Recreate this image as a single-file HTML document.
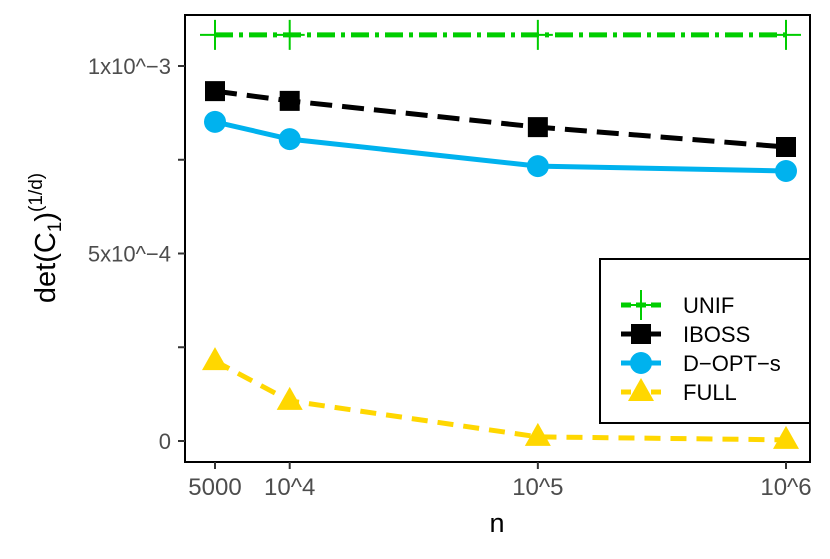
<!DOCTYPE html>
<html><head><meta charset="utf-8"><style>
body{margin:0;background:#fff}
svg text{font-family:"Liberation Sans",sans-serif}
</style></head><body>
<svg id="chart" width="830" height="554" viewBox="0 0 830 554">
<g id="plot"></g>
</svg>
<script>
const categories=[5000,10000,100000,1000000];
const xTickLabels=["5000","10^4","10^5","10^6"];
const yTicks=[0,0.00025,0.0005,0.00075,0.001];
const yTickLabels=["0","","5x10^\u22124","","1x10^\u22123"];
const unif=[0.001083,0.001083,0.001083,0.001083];
const iboss=[0.000933,0.000907,0.000837,0.000784];
const dopt=[0.000851,0.000805,0.000733,0.00072];
const full=[0.000213,0.000107,0.000011,0.000003];
const legendLabels=["UNIF","IBOSS","D\u2212OPT\u2212s","FULL"];

const NS="http://www.w3.org/2000/svg";
const g=document.getElementById('plot');
function x(v){return 215+(Math.log10(v)-Math.log10(5000))/(6-Math.log10(5000))*(786-215);}
function y(v){return 441-v/0.001*375;}
function mk(t,a,p){const e=document.createElementNS(NS,t);for(const k in a)e.setAttribute(k,a[k]);(p||g).appendChild(e);return e;}

const frame=mk('rect',{x:185,y:15,width:625,height:447,fill:'none',stroke:'#000','stroke-width':2});



yTicks.forEach((v,i)=>{
  const t=mk('line',{x1:178,x2:185,y1:y(v),y2:y(v),stroke:'#333','stroke-width':2});
  
  
  if(yTickLabels[i]){
    const l=mk('text',{x:171,y:y(v)+8,'text-anchor':'end','font-size':22,fill:'#4d4d4d'});
    l.textContent=yTickLabels[i];
    
    
  }
});
categories.forEach((c,i)=>{
  const t=mk('line',{x1:x(c),x2:x(c),y1:462,y2:469,stroke:'#333','stroke-width':2});
  
  
  const l=mk('text',{x:x(c),y:495,'text-anchor':'middle','font-size':24,fill:'#4d4d4d'});
  l.textContent=xTickLabels[i];
  
  
});
const xt=mk('text',{x:497,y:532,'text-anchor':'middle','font-size':27});
xt.textContent='n';


const yt=mk('text',{transform:'translate(55,238) rotate(-90)','text-anchor':'middle','font-size':29});
yt.innerHTML='det(C<tspan font-size="19" dy="6">1</tspan><tspan dy="-6">)</tspan><tspan font-size="19" dy="-13">(1/d)</tspan>';



function marker(type,cx,cy,col,p){
  let e;
  if(type==='plus'){e=mk('path',{d:`M${cx-15},${cy}H${cx+15}M${cx},${cy-15}V${cy+15}`,stroke:col,'stroke-width':2},p);}
  else if(type==='square'){e=mk('rect',{x:cx-10,y:cy-10,width:20,height:20,fill:col},p);}
  else if(type==='circle'){e=mk('circle',{cx:cx,cy:cy,r:11,fill:col},p);}
  else {e=mk('path',{d:`M${cx},${cy-14}L${cx+13},${cy+9}L${cx-13},${cy+9}Z`,fill:col},p);}
  return e;
}
const series=[
 {name:'unif',d:unif,col:'#00cd00',dash:'18,6,4,6',m:'plus'},
 {name:'iboss',d:iboss,col:'#000',dash:'22,10',m:'square'},
 {name:'dopt',d:dopt,col:'#00b2ee',dash:'',m:'circle'},
 {name:'full',d:full,col:'#ffd700',dash:'16,10',m:'triangle'}
];
series.forEach(s=>{
  const pts=s.d.map((v,i)=>x(categories[i])+','+y(v)).join(' ');
  const l=mk('polyline',{points:pts,fill:'none',stroke:s.col,'stroke-width':5,'stroke-dasharray':s.dash});
  
  
  s.d.forEach((v,i)=>{
    const m=marker(s.m,x(categories[i]),y(v),s.col);
    
    
  });
});
const lg=mk('g',{});


mk('rect',{x:600,y:259,width:210,height:164,fill:'#fff',stroke:'#000','stroke-width':2},lg);
series.forEach((s,i)=>{
  const cy=305+i*29;
  const e=mk('g',{},lg);
  
  
  mk('line',{x1:621,x2:661,y1:cy,y2:cy,stroke:s.col,'stroke-width':5,'stroke-dasharray':s.dash?'10,5':''},e);
  marker(s.m,641,cy,s.col,e);
  const t=mk('text',{x:683,y:cy+8,'font-size':22},e);
  t.textContent=legendLabels[i];
});
</script>
</body></html>
